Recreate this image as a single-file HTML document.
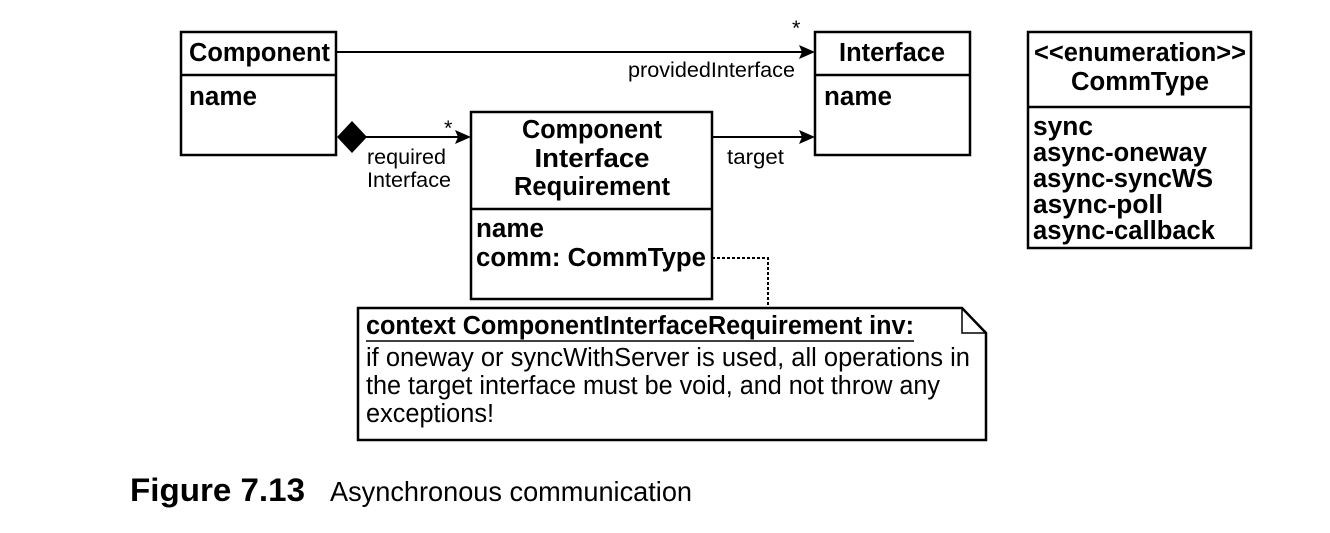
<!DOCTYPE html>
<html><head><meta charset="utf-8"><style>
html,body{margin:0;padding:0;background:#fff;}
svg text{font-family:"Liberation Sans",Arial,sans-serif;fill:#000;}
.b{font-weight:bold;font-size:25.5px;}
.n{font-size:21.5px;}
.t{font-size:25.5px;}
</style></head><body>
<svg width="1330" height="528" viewBox="0 0 1330 528">
<g fill="none" stroke="#000" stroke-width="2.5">
<rect x="181" y="32" width="155" height="123" fill="#fff"/>
<line x1="181" y1="75" x2="336" y2="75"/>
<rect x="815" y="32" width="155" height="123" fill="#fff"/>
<line x1="815" y1="75" x2="970" y2="75"/>
<rect x="471" y="112" width="241" height="187" fill="#fff"/>
<line x1="471" y1="209" x2="712" y2="209"/>
<rect x="1028" y="32" width="223" height="216" fill="#fff"/>
<line x1="1028" y1="107" x2="1251" y2="107"/>
<path d="M358 308 H962 L986 333 V440 H358 Z" fill="#fff"/>
<path d="M962 308 V333 H986" stroke-width="1.5"/>
</g>
<g stroke="#000" stroke-width="2">
<line x1="336" y1="52" x2="805" y2="52"/>
<line x1="360" y1="137" x2="460" y2="137"/>
<line x1="712" y1="137" x2="805" y2="137"/>
<polyline points="712,258 768,258 768,308" fill="none" stroke-dasharray="3,2"/>
<line x1="366" y1="341" x2="914" y2="341" stroke-width="1.5"/>
</g>
<g fill="#000">
<path d="M815 52 L799 45 L802 52 L799 59 Z"/>
<path d="M815 137 L799 130 L802 137 L799 144 Z"/>
<path d="M471 137 L455 130 L458 137 L455 144 Z"/>
<path d="M337 137 L352 121 L367 137 L352 153 Z"/>
</g>
<text class="n" x="792" y="35">*</text>
<text class="n" x="444" y="135">*</text>
<text class="n" x="628" y="77" textLength="167" lengthAdjust="spacingAndGlyphs">providedInterface</text>
<text class="n" x="367" y="164" textLength="79" lengthAdjust="spacingAndGlyphs">required</text>
<text class="n" x="367" y="187" textLength="84" lengthAdjust="spacingAndGlyphs">Interface</text>
<text class="n" x="727" y="164" textLength="57" lengthAdjust="spacingAndGlyphs">target</text>
<text class="b" x="189" y="61" textLength="141" lengthAdjust="spacingAndGlyphs">Component</text>
<text class="b" x="189" y="105" textLength="68" lengthAdjust="spacingAndGlyphs">name</text>
<text class="b" x="892" y="61" text-anchor="middle" textLength="106" lengthAdjust="spacingAndGlyphs">Interface</text>
<text class="b" x="824" y="105" textLength="68" lengthAdjust="spacingAndGlyphs">name</text>
<text class="b" x="592" y="138" text-anchor="middle" textLength="140" lengthAdjust="spacingAndGlyphs">Component</text>
<text class="b" x="592" y="167" text-anchor="middle" textLength="115" lengthAdjust="spacingAndGlyphs">Interface</text>
<text class="b" x="592" y="195" text-anchor="middle" textLength="156" lengthAdjust="spacingAndGlyphs">Requirement</text>
<text class="b" x="476" y="237" textLength="68" lengthAdjust="spacingAndGlyphs">name</text>
<text class="b" x="476" y="266" textLength="230" lengthAdjust="spacingAndGlyphs">comm: CommType</text>
<text class="b" x="1140" y="61" text-anchor="middle" textLength="212" lengthAdjust="spacingAndGlyphs">&lt;&lt;enumeration&gt;&gt;</text>
<text class="b" x="1140" y="90" text-anchor="middle" textLength="138" lengthAdjust="spacingAndGlyphs">CommType</text>
<text class="b" x="1033" y="135" textLength="60" lengthAdjust="spacingAndGlyphs">sync</text>
<text class="b" x="1033" y="161" textLength="174" lengthAdjust="spacingAndGlyphs">async-oneway</text>
<text class="b" x="1033" y="187" textLength="180" lengthAdjust="spacingAndGlyphs">async-syncWS</text>
<text class="b" x="1033" y="213" textLength="130" lengthAdjust="spacingAndGlyphs">async-poll</text>
<text class="b" x="1033" y="239" textLength="182" lengthAdjust="spacingAndGlyphs">async-callback</text>
<text class="b" x="366" y="334" textLength="548" lengthAdjust="spacingAndGlyphs">context ComponentInterfaceRequirement inv:</text>
<text class="t" x="366" y="366" textLength="604" lengthAdjust="spacingAndGlyphs">if oneway or syncWithServer is used, all operations in</text>
<text class="t" x="366" y="394" textLength="574" lengthAdjust="spacingAndGlyphs">the target interface must be void, and not throw any</text>
<text class="t" x="366" y="422" textLength="128" lengthAdjust="spacingAndGlyphs">exceptions!</text>
<text x="130" y="501" style="font-size:32px;font-weight:bold" textLength="175" lengthAdjust="spacingAndGlyphs">Figure 7.13</text>
<text x="330" y="501" style="font-size:28px" textLength="362" lengthAdjust="spacingAndGlyphs">Asynchronous communication</text>
</svg>
</body></html>
